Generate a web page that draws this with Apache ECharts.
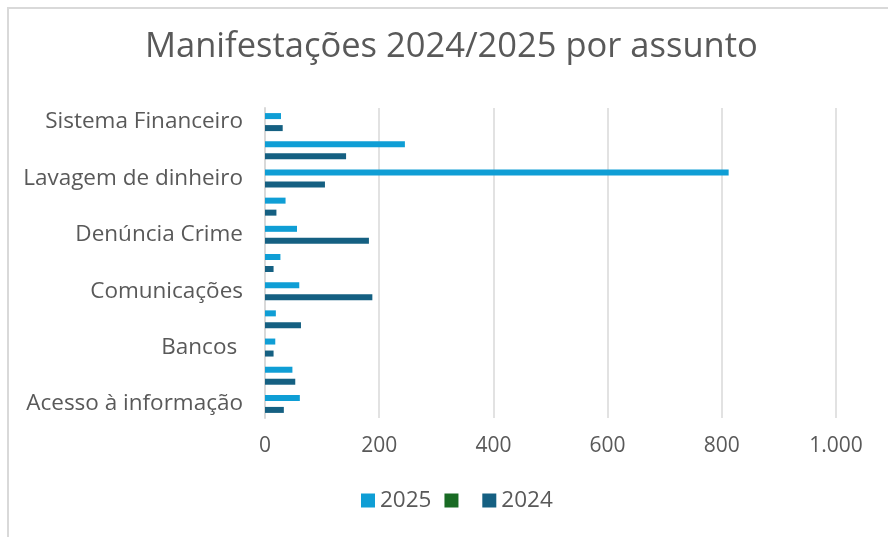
<!DOCTYPE html>
<html>
<head>
<meta charset="utf-8">
<script src="https://cdn.jsdelivr.net/npm/echarts@6/dist/echarts.min.js"></script>
<style>
html,body{margin:0;padding:0;background:#fff;}
#c{width:888px;height:537px;}
</style>
</head>
<body>
<div id="c"></div>
<script>
// Categories, top to bottom (unlabeled rows are skipped by the axis label interval)
const categories = [
  "Sistema Financeiro", "Outros", "Lavagem de dinheiro", "Fraude",
  "Denúncia Crime", "Consórcio", "Comunicações", "Câmbio",
  "Bancos ", "Atendimento", "Acesso à informação"
];
const values2025 = [28, 245, 812, 36, 56, 27, 60, 19, 18, 48, 61];
const valuesBlank = [null, null, null, null, null, null, null, null, null, null, null];
const values2024 = [31, 142, 105, 20, 182, 15, 188, 63, 15, 53, 33];
const seriesNames = ["2025", " ", "2024"];
const xTicks = [0, 200, 400, 600, 800, 1000];

const FONT = "Open Sans";
const chart = echarts.init(document.getElementById('c'), null, {renderer: 'canvas'});
chart.setOption({
  animation: false,
  backgroundColor: '#ffffff',
  textStyle: {fontFamily: FONT},
  graphic: [{
    type: 'rect', silent: true, z: -1,
    shape: {x: 8, y: 8, width: 900, height: 560},
    style: {fill: 'none', stroke: '#d9d9d9', lineWidth: 2}
  }],
  title: {
    text: 'Manifestações 2024/2025 por assunto',
    left: 140, top: 25,
    textStyle: {fontFamily: FONT, fontSize: 34.5, fontWeight: 'normal', color: '#595959'}
  },
  legend: {
    bottom: 20, left: 356,
    icon: 'rect', itemWidth: 14, itemHeight: 14, itemGap: 13,
    textStyle: {fontFamily: FONT, fontSize: 22.5, color: '#595959'},
    data: seriesNames
  },
  grid: {left: 265, right: 52, top: 108, bottom: 119, containLabel: false},
  xAxis: {
    type: 'value', min: xTicks[0], max: xTicks[xTicks.length - 1], interval: 200,
    axisLine: {show: false}, axisTick: {show: false},
    splitLine: {lineStyle: {color: '#d9d9d9', width: 1.5}},
    axisLabel: {
      fontFamily: FONT, fontSize: 21, color: '#595959', margin: 18,
      formatter: v => v.toString().replace(/\B(?=(\d{3})+(?!\d))/g, '.')
    }
  },
  yAxis: {
    type: 'category', data: categories, inverse: true,
    axisLine: {show: true, lineStyle: {color: '#d9d9d9', width: 2}},
    axisTick: {show: false},
    axisLabel: {interval: 1, fontFamily: FONT, fontSize: 22.5, color: '#595959', margin: 22}
  },
  series: [
    {name: seriesNames[0], type: 'bar', data: values2025, barWidth: 6, barGap: '0%', itemStyle: {color: '#0F9ED5'}},
    {name: seriesNames[1], type: 'bar', data: valuesBlank, barWidth: 6, barGap: '0%', itemStyle: {color: '#196B24'}},
    {name: seriesNames[2], type: 'bar', data: values2024, barWidth: 6, barGap: '0%', itemStyle: {color: '#156082'}}
  ]
});
</script>
</body>
</html>
